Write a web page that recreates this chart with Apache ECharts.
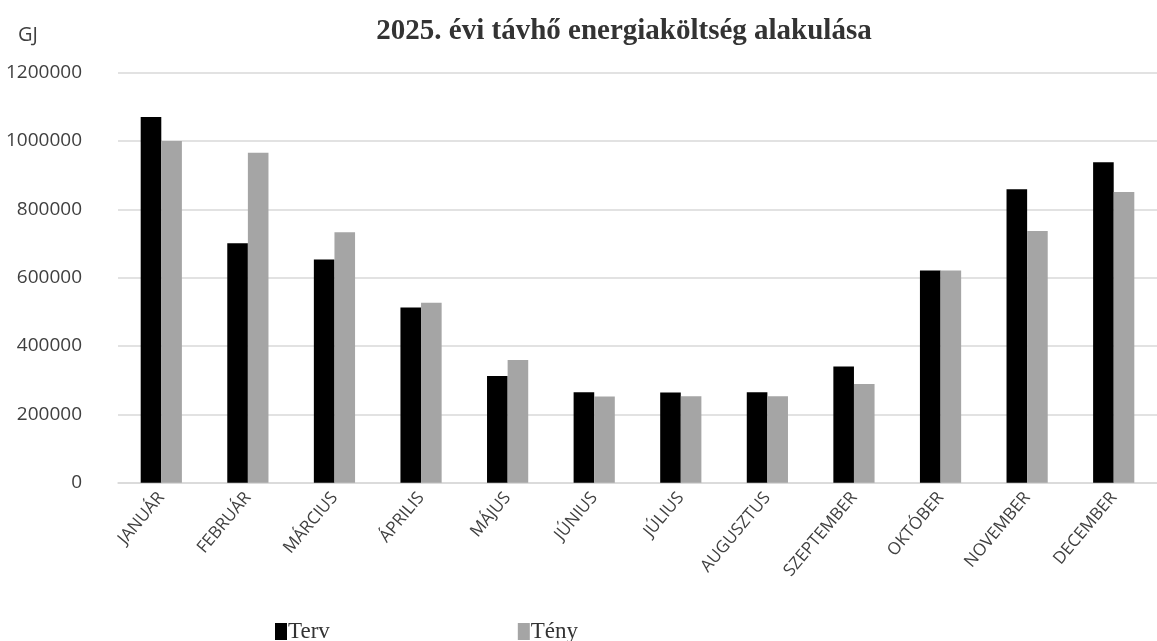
<!DOCTYPE html>
<html>
<head>
<meta charset="utf-8">
<script src="https://cdn.jsdelivr.net/npm/echarts@6/dist/echarts.min.js"></script>
<style>
html,body{margin:0;padding:0;background:#fff;}
#main{width:1157px;height:641px;}
</style>
</head>
<body>
<div id="main"></div>
<script>
const categories = ['JANUÁR','FEBRUÁR','MÁRCIUS','ÁPRILIS','MÁJUS','JÚNIUS','JÚLIUS','AUGUSZTUS','SZEPTEMBER','OKTÓBER','NOVEMBER','DECEMBER'];
const tervValues = [1070000, 701000, 653000, 513000, 312000, 265000, 264000, 265000, 340000, 621000, 859000, 938000];
const tenyValues = [1000000, 966000, 733000, 527000, 359000, 252000, 253000, 253000, 289000, 621000, 737000, 851000];
const yTicks = [0, 200000, 400000, 600000, 800000, 1000000, 1200000];
const titleText = '2025. évi távhő energiaköltség alakulása';
const unitText = 'GJ';
const seriesNames = ['Terv', 'Tény'];

const chart = echarts.init(document.getElementById('main'), null, {renderer: 'canvas'});
chart.setOption({
  animation: false,
  backgroundColor: '#ffffff',
  title: {
    text: titleText,
    left: 619, textAlign: 'center', top: 12,
    textStyle: {fontFamily: 'Liberation Serif', fontWeight: 'bold', fontSize: 29, color: '#333333'}
  },
  graphic: [{
    type: 'text', left: 18, top: 25,
    style: {text: unitText, fontFamily: 'Open Sans', fontSize: 20, fill: '#404040'}
  }],
  legend: {
    data: seriesNames,
    left: 270, top: 615,
    itemWidth: 12, itemHeight: 17, itemGap: 188,
    icon: 'rect',
    textStyle: {fontFamily: 'Liberation Serif', fontSize: 23, color: '#333333', padding: [0,0,0,-4]}
  },
  grid: {left: 118, right: -12, top: 72.7, bottom: 158.3, containLabel: false},
  xAxis: {
    type: 'category',
    data: categories,
    axisLine: {lineStyle: {color: '#d9d9d9', width: 1.5}},
    axisTick: {show: false},
    axisLabel: {rotate: 50, interval: 0, margin: 12, fontFamily: 'Open Sans', fontSize: 17, color: '#404040'}
  },
  yAxis: {
    type: 'value',
    min: yTicks[0], max: yTicks[yTicks.length-1], interval: yTicks[1]-yTicks[0],
    axisLine: {show: false},
    axisTick: {show: false},
    splitLine: {lineStyle: {color: '#d9d9d9', width: 1.5}},
    axisLabel: {margin: 36, fontFamily: 'Open Sans', fontSize: 19, color: '#404040',
      formatter: function (v) { return String(v); }}
  },
  series: [
    {name: seriesNames[0], type: 'bar', data: tervValues, barWidth: 20.6, barGap: '0%',
     itemStyle: {color: '#000000'}},
    {name: seriesNames[1], type: 'bar', data: tenyValues, barWidth: 20.6, barGap: '0%',
     itemStyle: {color: '#a5a5a5'}}
  ]
});
</script>
</body>
</html>
